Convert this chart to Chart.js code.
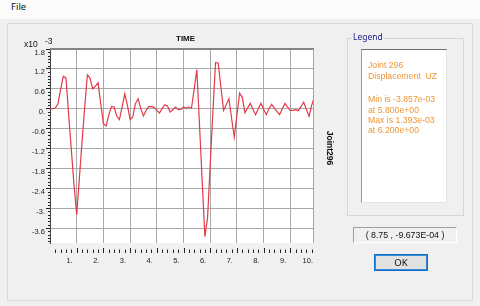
<!DOCTYPE html>
<html lang="en">
<head>
<meta charset="utf-8">
<title>Joint296 - TIME</title>
<script src="https://cdn.jsdelivr.net/npm/chart.js@4.4.1/dist/chart.umd.min.js"></script>
<style>
  body {
    margin: 0;
    width: 480px;
    height: 306px;
    position: relative;
    overflow: hidden;
    background: #f0f0f0;
    font-family: "Liberation Sans", Arial, sans-serif;
  }
  .abs { position: absolute; white-space: pre; }
  #menu {
    left: 0; top: 0; width: 480px; height: 19px;
    background: #fbfbfb;
  }
  #menu span {
    position: absolute; left: 11px; top: 2px;
    font: 9.5px/10px "Noto Sans", sans-serif; color: #111;
  }
  #panneau {
    left: 7px; top: 23px; width: 464px; height: 276px;
    border: 1px solid #dadada;
  }
  #graphique { position: absolute; left: 0; top: 0; }
  .titre { font-size: 8.5px; line-height: 8.5px; color: #111; }
  #titre-temps { left: 176px; top: 35.4px; font-size: 8px; line-height: 8px; font-weight: bold; }
  #titre-joint {
    left: 329.5px; top: 147.5px; font-size: 8.5px; line-height: 8.5px; font-weight: bold;
    transform: translate(-50%, -50%) rotate(90deg);
  }
  #groupe-legende {
    left: 347px; top: 38px; width: 115px; height: 176px;
    border: 1px solid #d6d6d6;
  }
  #titre-legende {
    left: 352px; top: 32px; padding: 0 1px;
    background: #f0f0f0; color: #23238e;
    font: 8.5px/10px "Noto Sans", sans-serif;
  }
  #boite-legende {
    left: 361px; top: 49px; width: 84px; height: 152px;
    background: #fff;
    border-top: 1px solid #6e6e6e; border-left: 1px solid #9a9a9a;
    border-right: 1px solid #e6e6e6; border-bottom: 1px solid #e6e6e6;
  }
  .ligne-legende { left: 368px; font-size: 8.7px; line-height: 8.7px; color: #ee9636; }
  #coordonnees {
    left: 353px; top: 227px; width: 102px; height: 14px;
    border-top: 1px solid #a0a0a0; border-left: 1px solid #a0a0a0;
    border-right: 1px solid #fff; border-bottom: 1px solid #fff;
    display: flex; align-items: center; justify-content: center;
    font-size: 8.8px; color: #111;
  }
  #bouton-ok {
    left: 374px; top: 254px; width: 52px; height: 15px;
    background: #e1e1e1; border: 1px solid #0a6fc8;
    box-shadow: inset 0 0 0 1px #3d8ad6;
    display: flex; align-items: center; justify-content: center;
    font: 9.5px "Noto Sans", sans-serif; color: #111;
  }
</style>
</head>
<body>
<div id="menu" class="abs"><span>File</span></div>
<div id="panneau" class="abs"></div>
<canvas id="graphique" width="340" height="280"></canvas>
<div class="abs titre" style="left:24px; top:39.6px;">x10</div>
<div class="abs titre" style="left:45px; top:37px;">-3</div>
<div id="titre-temps" class="abs titre">TIME</div>
<div id="titre-joint" class="abs titre">Joint296</div>
<div id="groupe-legende" class="abs"></div>
<div id="titre-legende" class="abs">Legend</div>
<div id="boite-legende" class="abs"></div>
<div id="coordonnees" class="abs">( 8.75 , -9.673E-04 )</div>
<div id="bouton-ok" class="abs">OK</div>

<script>
'use strict';

/* === DONNÉES === */
// temps (s)
const TEMPS = [
  0.0, 0.1, 0.2, 0.3, 0.4, 0.5, 0.6, 0.7, 0.8, 0.9,
  1.0, 1.1, 1.2, 1.3, 1.4, 1.5, 1.6, 1.7, 1.8, 1.9,
  2.0, 2.1, 2.2, 2.3, 2.4, 2.5, 2.6, 2.7, 2.8, 2.9,
  3.0, 3.1, 3.2, 3.3, 3.4, 3.5, 3.6, 3.7, 3.8, 3.9,
  4.0, 4.1, 4.2, 4.3, 4.4, 4.5, 4.6, 4.7, 4.8, 4.9,
  5.0, 5.1, 5.2, 5.3, 5.4, 5.5, 5.6, 5.7, 5.8, 5.9,
  6.0, 6.1, 6.2, 6.3, 6.4, 6.5, 6.6, 6.7, 6.8, 6.9,
  7.0, 7.1, 7.2, 7.3, 7.4, 7.5, 7.6, 7.7, 7.8, 7.9,
  8.0, 8.1, 8.2, 8.3, 8.4, 8.5, 8.6, 8.7, 8.8, 8.9,
  9.0, 9.1, 9.2, 9.3, 9.4, 9.5, 9.6, 9.7, 9.8, 9.9
];

// déplacement UZ du joint 296 (x10^-3)
const DEPLACEMENT_UZ = [
  0.00, 0.00, 0.02, 0.15, 0.60, 0.98, 0.92, -0.20, -1.25, -2.30,
  -3.20, -2.10, -1.00, 0.05, 1.02, 0.92, 0.60, 0.68, 0.78, 0.15,
  -0.45, -0.52, -0.20, 0.07, 0.05, -0.22, -0.33, 0.05, 0.45, 0.10,
  -0.33, -0.25, 0.15, 0.30, 0.00, -0.22, -0.05, 0.06, 0.06, 0.04,
  -0.05, -0.13, 0.00, 0.12, 0.08, -0.10, -0.03, 0.05, -0.03, -0.02,
  0.05, 0.02, 0.05, 0.02, 0.60, 1.18, -0.50, -2.18, -3.857, -3.30,
  -1.70, -0.10, 1.393, 1.37, 0.66, -0.05, 0.12, 0.30, -0.28, -0.86,
  -0.20, 0.47, 0.35, -0.12, 0.02, 0.16, -0.02, -0.18, 0.00, 0.16,
  -0.02, -0.18, 0.00, 0.13, 0.02, -0.08, -0.18, 0.00, 0.16, 0.05,
  -0.05, -0.05, -0.03, -0.06, 0.06, 0.20, -0.02, -0.23, 0.10, 0.35
];

const GRADUATIONS_X = [1, 2, 3, 4, 5, 6, 7, 8, 9, 10];
const GRADUATIONS_Y = [1.8, 1.2, 0.6, 0, -0.6, -1.2, -1.8, -2.4, -3, -3.6];

const LIGNES_LEGENDE = [
  { texte: 'Joint 296', y: 65.3 },
  { texte: 'Displacement  UZ', y: 75.8 },
  { texte: 'Min is -3.857e-03', y: 99.5 },
  { texte: 'at 5.800e+00', y: 110 },
  { texte: 'Max is 1.393e-03', y: 120 },
  { texte: 'at 6.200e+00', y: 130 }
];

/* === HELPERS === */

// 1 -> "1.", 0 -> "0.", 1.8 -> "1.8"
function formaterGraduation(v) {
  const s = String(Number(v.toFixed(1)));
  return s.includes('.') ? s : s + '.';
}

const POLICE_AXES = '7.5px "Liberation Sans", Arial, sans-serif';

/* === PLUGIN : fond, cadre et graduations fines === */

const pluginCadre = {
  id: 'cadre',
  beforeDraw(chart) {
    const { ctx, chartArea: a } = chart;
    ctx.save();
    ctx.fillStyle = '#ffffff';
    ctx.fillRect(a.left, a.top, a.right - a.left, a.bottom - a.top);
    ctx.restore();
  },
  afterDraw(chart) {
    const { ctx, chartArea: a, scales: { x, y } } = chart;
    ctx.save();

    // bord haut épais, bord droit
    ctx.fillStyle = '#858585';
    ctx.fillRect(a.left, a.top - 1, a.right - a.left + 1, 2);
    ctx.fillStyle = '#a4a4a4';
    ctx.fillRect(Math.round(a.right), a.top, 1, a.bottom - a.top);

    // graduations fines de l'axe Y (pas 0.1)
    ctx.strokeStyle = '#222';
    ctx.lineWidth = 1;
    ctx.beginPath();
    for (let k = -40; k <= 18; k++) {
      if (k % 6 === 0) continue;
      const py = Math.round(y.getPixelForValue(k / 10)) + 0.5;
      ctx.moveTo(a.left - 2, py);
      ctx.lineTo(a.left, py);
    }
    ctx.stroke();

    // rangée de graduations de l'axe X, sous le cadre (pas 0.2)
    const yBase = a.bottom + 5;
    ctx.beginPath();
    for (let k = 1; k <= 49; k++) {
      const px = Math.round(x.getPixelForValue(k / 5)) + 0.5;
      const majeure = k % 5 === 0;
      ctx.moveTo(px, yBase + (majeure ? 0 : 1.5));
      ctx.lineTo(px, yBase + 5);
    }
    ctx.stroke();

    // libellés de l'axe X
    ctx.font = POLICE_AXES;
    ctx.fillStyle = '#1a1a1a';
    ctx.textAlign = 'right';
    ctx.textBaseline = 'middle';
    GRADUATIONS_X.forEach(v => {
      ctx.fillText(formaterGraduation(v), x.getPixelForValue(v) - 4, yBase + 12.5);
    });

    ctx.restore();
  }
};

/* === INITIALISATION === */

function initialiserLegende() {
  LIGNES_LEGENDE.forEach(l => {
    const div = document.createElement('div');
    div.className = 'abs ligne-legende';
    div.style.top = (l.y - 4.3) + 'px';
    div.textContent = l.texte;
    document.body.appendChild(div);
  });
}

function initialiserChart() {
  const ctx = document.getElementById('graphique').getContext('2d');
  new Chart(ctx, {
    type: 'line',
    data: {
      datasets: [{
        data: TEMPS.map((t, i) => ({ x: t, y: DEPLACEMENT_UZ[i] })),
        borderColor: '#e23a48',
        borderWidth: 1.2,
        pointRadius: 0,
        tension: 0,
        fill: false,
        clip: 0
      }]
    },
    options: {
      responsive: false,
      animation: false,
      layout: { padding: { left: 0, top: 49, right: 27, bottom: 0 } },
      plugins: {
        legend: { display: false },
        tooltip: { enabled: false },
        title: { display: false }
      },
      scales: {
        x: {
          type: 'linear',
          min: 0,
          max: 9.85,
          afterBuildTicks: s => {
            s.ticks = GRADUATIONS_X.filter(v => v < s.max).map(v => ({ value: v }));
          },
          afterFit: s => { s.height = 37; },
          ticks: { display: false },
          grid: { color: '#a9a9a9', lineWidth: 1, drawTicks: false },
          border: { display: false }
        },
        y: {
          type: 'linear',
          min: -4.05,
          max: 1.8,
          afterBuildTicks: s => {
            s.ticks = GRADUATIONS_Y.map(v => ({ value: v }));
          },
          afterFit: s => { s.width = 50; },
          ticks: {
            callback: v => formaterGraduation(v),
            font: { family: '"Liberation Sans", Arial, sans-serif', size: 7.5 },
            color: '#1a1a1a',
            padding: 1,
            labelOffset: 3.5,
            autoSkip: false
          },
          grid: { color: '#a9a9a9', lineWidth: 1, tickLength: 4, tickColor: '#222' },
          border: { color: '#444', width: 1 }
        }
      }
    },
    plugins: [pluginCadre]
  });
}

/* === DÉMARRAGE === */

initialiserLegende();
initialiserChart();
</script>
</body>
</html>
